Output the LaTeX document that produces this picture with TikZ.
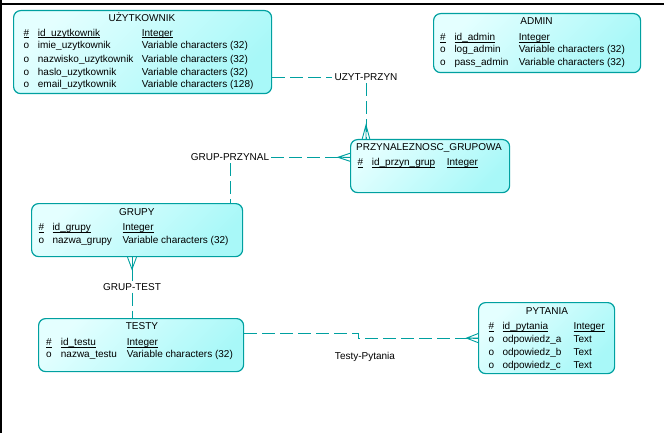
\documentclass[tikz,border=0pt]{standalone}
\usepackage{fontspec}
\setmainfont{Liberation Sans}
\usetikzlibrary{calc}
\definecolor{edge}{RGB}{0,160,160}
\definecolor{fillA}{RGB}{228,255,255}
\definecolor{fillB}{RGB}{168,248,248}

% underline drawn just below the baseline
\newcommand\ulin[1]{\setbox0\hbox{#1}\rlap{\rule[-1.9pt]{\wd0}{0.7pt}}\box0}
% one attribute row: prefix, index, y, x of mark, x of name, x of type, mark, name, type
\newcommand\entrow[9]{%
  \node[cell] (#1-m#2) at (#4,#3) {#7};
  \node[cell] (#1-n#2) at (#5,#3) {#8};
  \node[cell] (#1-t#2) at (#6,#3) {#9};}
\newcommand\keyrow[7]{%
  \entrow{#1}{#2}{#3}{#4}{#5}{#6}{\ulin{\#}}{\ulin{#7}}{\ulin{Integer}}}

\begin{document}
\begin{tikzpicture}[x=1pt,y=-1pt,
  font=\fontsize{10}{12}\selectfont,
  entity/.style={draw=edge, line width=1.2pt, rounded corners=7pt,
    top color=fillA, bottom color=fillB, shading angle=45,
    anchor=north west, inner sep=0pt},
  cell/.style={anchor=west, inner sep=0pt, text height=7.2pt, text depth=0pt},
  etitle/.style={inner sep=0pt, text height=7.2pt, text depth=0pt},
  rel/.style={draw=edge, line width=0.9pt, dash pattern=on 13pt off 5pt},
  foot/.style={draw=edge, line width=0.9pt},
  lbl/.style={inner sep=2pt, text height=7.2pt, text depth=0pt}]

\useasboundingbox (0,0) rectangle (664,433);

% outer frame
\draw[line width=1.7pt] (0,4) -- (664,4);
\draw[line width=1.5pt] (0.75,0) -- (0.75,433);

% entity boxes
\node[entity, minimum width=258pt, minimum height=83pt] (uzyt)   at (13,10)  {};
\node[entity, minimum width=207pt, minimum height=59pt] (admin)  at (433,13) {};
\node[entity, minimum width=159pt, minimum height=53pt] (przyn)  at (350,139) {};
\node[entity, minimum width=211pt, minimum height=53pt] (grupy)  at (31,203) {};
\node[entity, minimum width=205pt, minimum height=53pt] (testy)  at (38,318) {};
\node[entity, minimum width=136pt, minimum height=71pt] (pytania) at (478,302) {};

% UZYTKOWNIK
\node[etitle] (uzyt-title) at (142,18.3) {UŻYTKOWNIK};
\keyrow{u}{1}{32.7}{23.3}{37.7}{141.7}{id\_uzytkownik}
\entrow{u}{2}{45.3}{23.3}{37.7}{141.7}{o}{imie\_uzytkownik}{Variable characters (32)}
\entrow{u}{3}{58.6}{23.3}{37.7}{141.7}{o}{nazwisko\_uzytkownik}{Variable characters (32)}
\entrow{u}{4}{71.7}{23.3}{37.7}{141.7}{o}{haslo\_uzytkownik}{Variable characters (32)}
\entrow{u}{5}{84.3}{23.3}{37.7}{141.7}{o}{email\_uzytkownik}{Variable characters (128)}

% ADMIN
\node[etitle] (admin-title) at (536.5,20.7) {ADMIN};
\keyrow{a}{1}{37.3}{440}{454.3}{518.7}{id\_admin}
\entrow{a}{2}{49.3}{440}{454.3}{518.7}{o}{log\_admin}{Variable characters (32)}
\entrow{a}{3}{62.3}{440}{454.3}{518.7}{o}{pass\_admin}{Variable characters (32)}

% PRZYNALEZNOSC_GRUPOWA
\node[etitle] (przyn-title) at (429,147) {PRZYNALEZNOSC\_GRUPOWA};
\keyrow{p}{1}{162}{357.3}{371.7}{446.7}{id\_przyn\_grup}

% GRUPY
\node[etitle] (grupy-title) at (136.8,211.7) {GRUPY};
\keyrow{g}{1}{227.3}{38.3}{52.3}{122.3}{id\_grupy}
\entrow{g}{2}{240}{38.3}{52.3}{122.3}{o}{nazwa\_grupy}{Variable characters (32)}

% TESTY
\node[etitle] (testy-title) at (142,326) {TESTY};
\keyrow{t}{1}{342.3}{46}{60.7}{126.7}{id\_testu}
\entrow{t}{2}{354.3}{46}{60.7}{126.7}{o}{nazwa\_testu}{Variable characters (32)}

% PYTANIA
\node[etitle] (pytania-title) at (547,310.7) {PYTANIA};
\keyrow{q}{1}{325.7}{488.3}{502.3}{573.3}{id\_pytania}
\entrow{q}{2}{339}{488.3}{502.3}{573.3}{o}{odpowiedz\_a}{Text}
\entrow{q}{3}{351.7}{488.3}{502.3}{573.3}{o}{odpowiedz\_b}{Text}
\entrow{q}{4}{364.7}{488.3}{502.3}{573.3}{o}{odpowiedz\_c}{Text}

% relationship labels
\node[lbl] (lbl-up) at (366,77.3)  {UZYT-PRZYN};
\node[lbl] (lbl-gp) at (230,157.3) {GRUP-PRZYNAL};
\node[lbl] (lbl-gt) at (132,286.7) {GRUP-TEST};
\node[lbl] (lbl-tp) at (365,355.7) {Testy-Pytania};

% UZYT-PRZYN
\coordinate (f1) at (lbl-up.south |- przyn.north);
\draw[rel] (lbl-up.west -| uzyt.east) -- (lbl-up.west);
\draw[rel] (lbl-up.south) -- (f1);
\draw[foot] ($(f1)+(-3.8,0)$) -- ($(f1)+(0,-14)$) -- ($(f1)+(3.8,0)$)
            ($(f1)+(0,-14)$) -- (f1);

% GRUP-PRZYNAL
\coordinate (f2) at (lbl-gp.east -| przyn.west);
\draw[rel] (lbl-gp.east) -- (f2);
\draw[rel] (lbl-gp.south) -- (lbl-gp.south |- grupy.north);
\draw[foot] ($(f2)+(0,-4)$) -- ($(f2)+(-12,0)$) -- ($(f2)+(0,4)$)
            ($(f2)+(-12,0)$) -- (f2);

% GRUP-TEST
\coordinate (f3) at (lbl-gt.north |- grupy.south);
\draw[foot] (f3) -- (lbl-gt.north);
\draw[rel] (lbl-gt.south) -- (lbl-gt.south |- testy.north);
\draw[foot] ($(f3)+(-4.5,0)$) -- ($(f3)+(0,12)$) -- ($(f3)+(4.5,0)$);

% Testy-Pytania
\coordinate (s4) at (testy.east |- 0,333.3);
\coordinate (f4) at (pytania.west);
\draw[rel] (s4) -- ++(114,0) |- (f4);
\draw[foot] ($(f4)+(0,-4.5)$) -- ($(f4)+(-11.5,0)$) -- ($(f4)+(0,4.5)$)
            ($(f4)+(-11.5,0)$) -- (f4);

\end{tikzpicture}
\end{document}
